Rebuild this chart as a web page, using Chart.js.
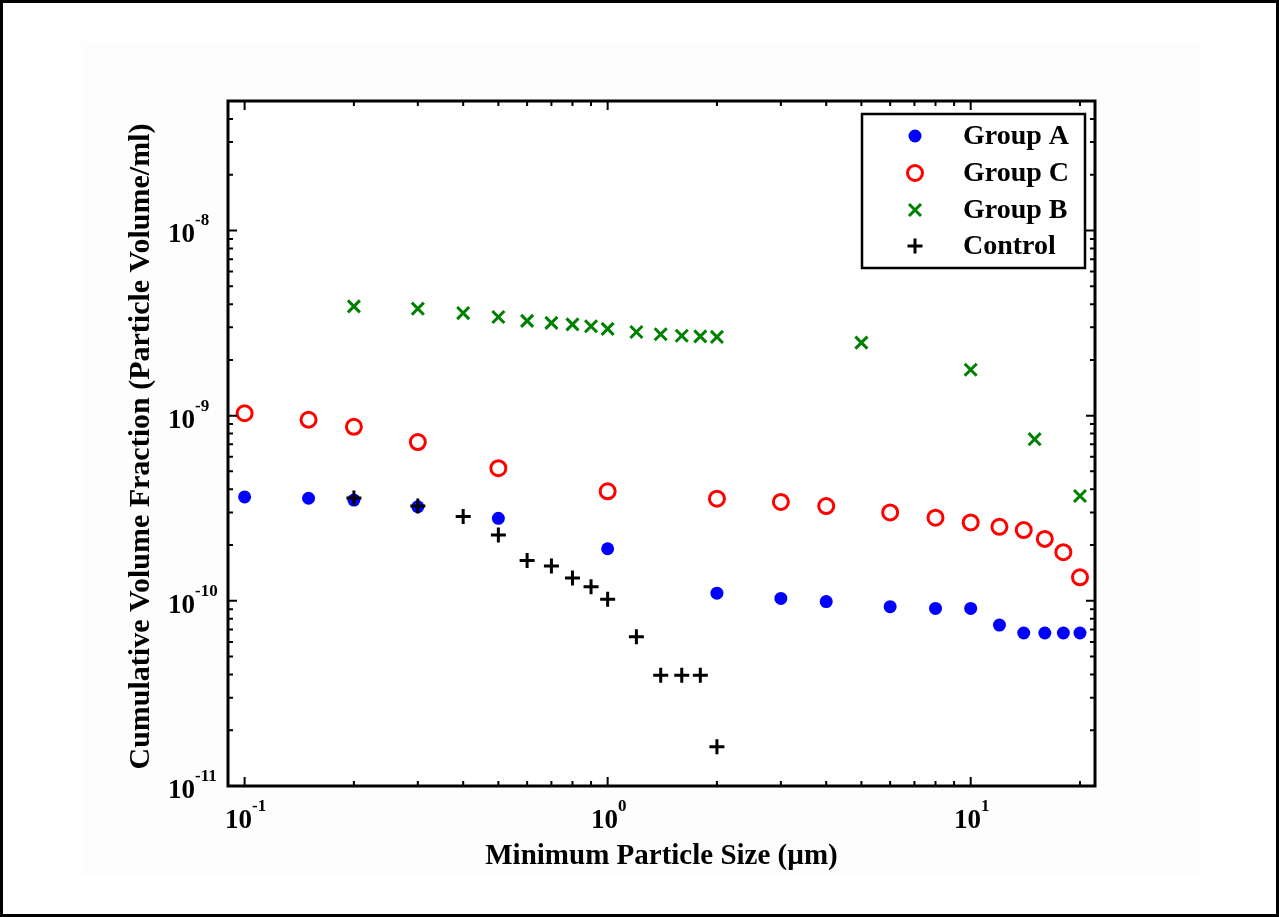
<!DOCTYPE html>
<html>
<head>
<meta charset="utf-8">
<script src="https://cdn.jsdelivr.net/npm/chart.js@4.4.0/dist/chart.umd.min.js"></script>
<style>
  html, body { margin: 0; padding: 0; background: #fff; }
  #grafico { display: block; }
</style>
</head>
<body>
<canvas id="grafico" width="1279" height="917"></canvas>
<script>
// dados
const sizesA = [0.1, 0.15, 0.2, 0.3, 0.5, 1, 2, 3, 4, 6, 8, 10, 12, 14, 16, 18, 20];
const groupA = [3.64e-10, 3.58e-10, 3.5e-10, 3.22e-10, 2.79e-10, 1.91e-10, 1.1e-10, 1.03e-10, 9.9e-11, 9.3e-11, 9.1e-11, 9.1e-11, 7.4e-11, 6.7e-11, 6.7e-11, 6.7e-11, 6.7e-11];
const groupC = [1.03e-9, 9.5e-10, 8.7e-10, 7.2e-10, 5.2e-10, 3.9e-10, 3.56e-10, 3.42e-10, 3.25e-10, 3.0e-10, 2.81e-10, 2.65e-10, 2.51e-10, 2.41e-10, 2.16e-10, 1.83e-10, 1.34e-10];
const sizesB = [0.2, 0.3, 0.4, 0.5, 0.6, 0.7, 0.8, 0.9, 1.0, 1.2, 1.4, 1.6, 1.8, 2.0, 5, 10, 15, 20];
const groupB = [3.89e-9, 3.78e-9, 3.58e-9, 3.41e-9, 3.25e-9, 3.17e-9, 3.11e-9, 3.04e-9, 2.94e-9, 2.83e-9, 2.75e-9, 2.7e-9, 2.68e-9, 2.66e-9, 2.48e-9, 1.77e-9, 7.46e-10, 3.68e-10];
const sizesCtrl = [0.2, 0.3, 0.4, 0.5, 0.6, 0.7, 0.8, 0.9, 1.0, 1.2, 1.4, 1.6, 1.8, 2.0];
const control = [3.59e-10, 3.25e-10, 2.85e-10, 2.27e-10, 1.65e-10, 1.54e-10, 1.33e-10, 1.19e-10, 1.02e-10, 6.4e-11, 3.96e-11, 3.96e-11, 3.96e-11, 1.63e-11];

// ticks
const xMajor = [0.1, 1, 10];
const xMajorExp = ['-1', '0', '1'];
const xMinor = [0.2, 0.3, 0.4, 0.5, 0.6, 0.7, 0.8, 0.9, 2, 3, 4, 5, 6, 7, 8, 9, 20];
const yMajor = [1e-11, 1e-10, 1e-9, 1e-8];
const yMajorExp = ['-11', '-10', '-9', '-8'];
const yMinor = [2e-11, 3e-11, 4e-11, 5e-11, 6e-11, 7e-11, 8e-11, 9e-11,
                2e-10, 3e-10, 4e-10, 5e-10, 6e-10, 7e-10, 8e-10, 9e-10,
                2e-9, 3e-9, 4e-9, 5e-9, 6e-9, 7e-9, 8e-9, 9e-9,
                2e-8, 3e-8, 4e-8];

const xTitle = 'Minimum Particle Size (\u00b5m)';
const yTitle = 'Cumulative Volume Fraction (Particle Volume/ml)';

function pares(xs, ys) {
  return xs.map(function (x, i) { return { x: x, y: ys[i] }; });
}

const fonte = '"Liberation Serif", "Times New Roman", serif';

const series = [
  { label: 'Group A', data: pares(sizesA, groupA), pointStyle: 'circle', pointRadius: 6.5, pointBorderWidth: 0,
    pointBackgroundColor: '#0000ff', pointBorderColor: '#0000ff', order: 4 },
  { label: 'Group C', data: pares(sizesA, groupC), pointStyle: 'circle', pointRadius: 7.5, pointBorderWidth: 3,
    pointBackgroundColor: 'rgba(0,0,0,0)', pointBorderColor: '#ff0000', order: 3 },
  { label: 'Group B', data: pares(sizesB, groupB), pointStyle: 'crossRot', pointRadius: 8.5, pointBorderWidth: 3,
    pointBackgroundColor: '#008000', pointBorderColor: '#008000', order: 2 },
  { label: 'Control', data: pares(sizesCtrl, control), pointStyle: 'cross', pointRadius: 7.5, pointBorderWidth: 3,
    pointBackgroundColor: '#000', pointBorderColor: '#000', order: 1 }
];

function marcador(ctx, ds, x, y) {
  ctx.save();
  ctx.strokeStyle = ds.pointBorderColor;
  ctx.fillStyle = ds.pointBackgroundColor;
  ctx.lineWidth = ds.pointBorderWidth;
  const r = ds.pointRadius;
  ctx.beginPath();
  if (ds.pointStyle === 'circle') {
    ctx.arc(x, y, r, 0, Math.PI * 2);
    if (ds.pointBorderWidth > 0) ctx.stroke(); else ctx.fill();
  } else if (ds.pointStyle === 'cross') {
    ctx.moveTo(x - r, y); ctx.lineTo(x + r, y);
    ctx.moveTo(x, y - r); ctx.lineTo(x, y + r);
    ctx.stroke();
  } else {
    const d = r * Math.SQRT1_2;
    ctx.moveTo(x - d, y - d); ctx.lineTo(x + d, y + d);
    ctx.moveTo(x - d, y + d); ctx.lineTo(x + d, y - d);
    ctx.stroke();
  }
  ctx.restore();
}

const moldura = {
  id: 'moldura',
  beforeDraw(chart) {
    const ctx = chart.ctx;
    ctx.save();
    ctx.fillStyle = '#ffffff';
    ctx.fillRect(0, 0, chart.width, chart.height);
    ctx.fillStyle = '#fdfdfd';
    ctx.fillRect(82, 42, 1118, 834);
    ctx.fillStyle = '#ffffff';
    const a = chart.chartArea;
    ctx.fillRect(a.left, a.top, a.right - a.left, a.bottom - a.top);
    ctx.strokeStyle = '#000';
    ctx.lineWidth = 3;
    ctx.strokeRect(1.5, 1.5, chart.width - 3, chart.height - 3);
    ctx.restore();
  },
  afterDatasetsDraw(chart) {
    const ctx = chart.ctx;
    const a = chart.chartArea;
    const xs = chart.scales.x, ys = chart.scales.y;
    ctx.save();

    // ticks para dentro, nos quatro lados
    ctx.strokeStyle = '#000';
    ctx.lineWidth = 2;
    ctx.beginPath();
    function tickX(v, len) {
      const px = xs.getPixelForValue(v);
      ctx.moveTo(px, a.bottom); ctx.lineTo(px, a.bottom - len);
      ctx.moveTo(px, a.top); ctx.lineTo(px, a.top + len);
    }
    function tickY(v, len) {
      const py = ys.getPixelForValue(v);
      ctx.moveTo(a.left, py); ctx.lineTo(a.left + len, py);
      ctx.moveTo(a.right, py); ctx.lineTo(a.right - len, py);
    }
    xMajor.forEach(function (v) { tickX(v, 9); });
    xMinor.forEach(function (v) { tickX(v, 5); });
    yMajor.forEach(function (v) { tickY(v, 9); });
    yMinor.forEach(function (v) { tickY(v, 5); });
    ctx.stroke();

    // caixa do grafico
    ctx.lineWidth = 3;
    ctx.strokeRect(a.left, a.top, a.right - a.left, a.bottom - a.top);

    // rotulos dos ticks (10 com expoente)
    ctx.fillStyle = '#000';
    ctx.textBaseline = 'alphabetic';
    ctx.textAlign = 'left';
    const fBase = 'bold 27px ' + fonte;
    const fExp = 'bold 17px ' + fonte;
    xMajor.forEach(function (v, i) {
      ctx.font = fBase;
      const w1 = ctx.measureText('10').width;
      ctx.font = fExp;
      const w2 = ctx.measureText(xMajorExp[i]).width;
      const px = xs.getPixelForValue(v);
      const x0 = px - (w1 + w2) / 2 + 1;
      ctx.font = fBase;
      ctx.fillText('10', x0, 828);
      ctx.font = fExp;
      ctx.fillText(xMajorExp[i], x0 + w1, 811);
    });
    yMajor.forEach(function (v, i) {
      const py = ys.getPixelForValue(v);
      ctx.font = fBase;
      const w1 = ctx.measureText('10').width;
      ctx.fillText('10', 168, py + 12);
      ctx.font = fExp;
      ctx.fillText(yMajorExp[i], 168 + w1, py - 5);
    });

    // titulos dos eixos
    ctx.font = 'bold 29px ' + fonte;
    ctx.textAlign = 'center';
    ctx.fillText(xTitle, (a.left + a.right) / 2, 864);
    ctx.save();
    ctx.font = 'bold 30px ' + fonte;
    ctx.translate(149, (a.top + a.bottom) / 2 + 3);
    ctx.rotate(-Math.PI / 2);
    ctx.fillText(yTitle, 0, 0);
    ctx.restore();

    // legenda
    ctx.fillStyle = '#fff';
    ctx.fillRect(862, 114, 223, 154);
    ctx.strokeStyle = '#000';
    ctx.lineWidth = 2.5;
    ctx.strokeRect(862, 114, 223, 154);
    ctx.font = 'bold 28px ' + fonte;
    ctx.textAlign = 'left';
    ctx.textBaseline = 'middle';
    const linhas = [136, 173, 210, 246];
    chart.data.datasets.forEach(function (ds, i) {
      marcador(ctx, ds, 915, linhas[i]);
      ctx.fillStyle = '#000';
      ctx.fillText(ds.label, 963, linhas[i] + 1);
    });
    ctx.restore();
  }
};

new Chart(document.getElementById('grafico'), {
  type: 'scatter',
  data: { datasets: series },
  options: {
    responsive: false,
    animation: false,
    layout: { padding: { left: 228, top: 101, right: 1279 - 1095, bottom: 917 - 786 } },
    plugins: { legend: { display: false }, tooltip: { enabled: false } },
    scales: {
      x: { type: 'logarithmic', min: 0.09, max: 22, display: false },
      y: { type: 'logarithmic', min: 1e-11, max: 5e-8, display: false }
    }
  },
  plugins: [moldura]
});
</script>
</body>
</html>
